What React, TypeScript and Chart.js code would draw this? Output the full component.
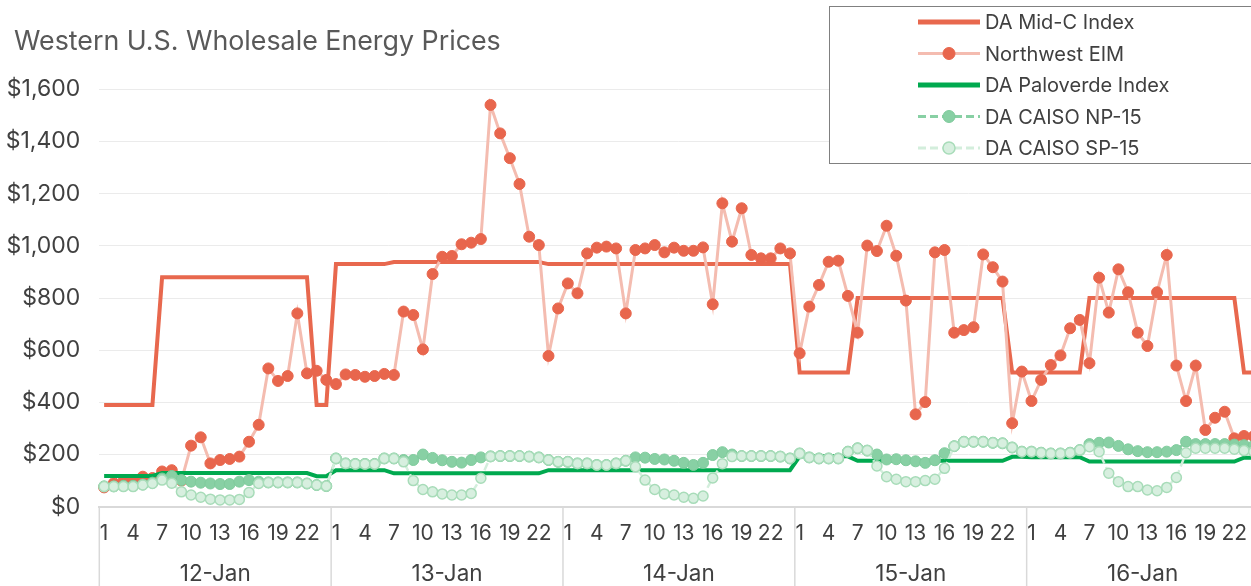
import React, { useEffect, useRef } from 'react';
import { Chart, registerables } from 'chart.js';

Chart.register(...registerables);

const FONT = 'Inter, "Liberation Sans", Arial, sans-serif';

const chartTitle = 'Western U.S. Wholesale Energy Prices';
const days = ['12-Jan', '13-Jan', '14-Jan', '15-Jan', '16-Jan'];
const hours = ['1', '2', '3', '4', '5', '6', '7', '8', '9', '10', '11', '12', '13', '14', '15', '16', '17', '18', '19', '20', '21', '22', '23', '24'];
const yTickLabels = ['$0', '$200', '$400', '$600', '$800', '$1,000', '$1,200', '$1,400', '$1,600'];
const seriesNames = ['DA Mid-C Index', 'Northwest EIM', 'DA Paloverde Index', 'DA CAISO NP-15', 'DA CAISO SP-15'];

const midC = [
  390, 390, 390, 390, 390, 390, 880, 880, 880, 880, 880, 880, 880, 880, 880, 880, 880, 880, 880, 880, 880, 880, 390, 390,
  930, 930, 930, 930, 930, 930, 938, 938, 938, 938, 938, 938, 938, 938, 938, 938, 938, 938, 938, 938, 938, 938, 930, 930,
  930, 930, 930, 930, 930, 930, 930, 930, 930, 930, 930, 930, 930, 930, 930, 930, 930, 930, 930, 930, 930, 930, 930, 930,
  514, 514, 514, 514, 514, 514, 800, 800, 800, 800, 800, 800, 800, 800, 800, 800, 800, 800, 800, 800, 800, 800, 514, 514,
  514, 514, 514, 514, 514, 514, 800, 800, 800, 800, 800, 800, 800, 800, 800, 800, 800, 800, 800, 800, 800, 800, 514, 514,
];

const northwestEIM = [
  74, 90, 98, 100, 115, 110, 135, 140, 100, 234, 266, 166, 179, 183, 192, 249, 314, 530, 482, 501, 741, 511, 521, 486,
  470, 507, 505, 498, 501, 509, 505, 748, 735, 603, 892, 958, 961, 1006, 1012, 1026, 1540, 1431, 1336, 1237, 1035, 1003, 578, 760,
  856, 818, 971, 993, 997, 990, 741, 984, 990, 1003, 975, 993, 981, 981, 994, 776, 1163, 1016, 1144, 965, 952, 952, 990, 971,
  588, 767, 850, 939, 943, 808, 667, 1001, 980, 1077, 962, 790, 354, 401, 975, 984, 667, 677, 688, 967, 918, 863, 320, 518,
  405, 486, 543, 580, 684, 716, 550, 878, 744, 910, 822, 667, 616, 822, 965, 541, 405, 541, 294, 341, 364, 262, 271, 270,
];

const paloverde = [
  118, 118, 118, 118, 118, 118, 129, 129, 129, 129, 129, 129, 129, 129, 129, 129, 129, 129, 129, 129, 129, 129, 117, 117,
  140, 140, 140, 140, 140, 140, 128, 128, 128, 128, 128, 128, 128, 128, 128, 128, 128, 128, 128, 128, 128, 128, 140, 140,
  140, 140, 140, 140, 140, 140, 140, 140, 140, 140, 140, 140, 140, 140, 140, 140, 140, 140, 140, 140, 140, 140, 140, 140,
  193, 193, 193, 193, 193, 193, 176, 176, 176, 176, 176, 176, 176, 176, 176, 176, 176, 176, 176, 176, 176, 176, 191, 191,
  190, 190, 190, 190, 190, 190, 173, 173, 173, 173, 173, 173, 173, 173, 173, 173, 173, 173, 173, 173, 173, 173, 188, 188,
];

const caisoNP15 = [
  78, 78, 80, 80, 85, 92, 108, 118, 102, 96, 92, 89, 87, 87, 96, 102, 96, 93, 93, 93, 93, 89, 83, 79,
  185, 166, 164, 164, 164, 185, 185, 179, 179, 200, 187, 178, 172, 169, 179, 189, 193, 194, 194, 194, 192, 189, 179, 172,
  172, 166, 166, 160, 160, 166, 176, 189, 188, 183, 181, 176, 168, 160, 168, 198, 209, 200, 194, 194, 194, 194, 192, 185,
  204, 189, 185, 185, 185, 211, 224, 215, 200, 181, 182, 178, 174, 168, 178, 205, 232, 249, 249, 249, 245, 243, 227, 211,
  211, 207, 204, 204, 207, 217, 240, 245, 246, 233, 220, 213, 209, 209, 211, 217, 249, 240, 240, 240, 240, 238, 236, 234,
];

const caisoSP15 = [
  77, 77, 77, 77, 83, 89, 102, 90, 57, 45, 36, 29, 26, 26, 28, 54, 89, 93, 93, 93, 93, 89, 83, 79,
  185, 166, 164, 164, 164, 185, 185, 172, 100, 66, 57, 49, 45, 45, 51, 109, 192, 194, 194, 194, 192, 189, 179, 172,
  172, 166, 166, 160, 160, 166, 176, 153, 102, 66, 49, 45, 36, 32, 41, 110, 165, 192, 194, 194, 194, 194, 192, 185,
  204, 189, 185, 185, 185, 211, 224, 215, 156, 115, 105, 96, 96, 100, 105, 147, 232, 249, 249, 249, 245, 243, 227, 211,
  211, 207, 204, 204, 207, 217, 230, 211, 128, 96, 77, 77, 64, 61, 74, 112, 207, 224, 224, 224, 224, 220, 215, 211,
];

const categories = days.flatMap((d) => hours.map((h) => `${d} ${h}`));

const titlePlugin = {
  id: 'leftTitle',
  afterDraw(chart: any) {
    const ctx = chart.ctx;
    ctx.save();
    ctx.fillStyle = '#595959';
    ctx.font = `26.8px ${FONT}`;
    ctx.textAlign = 'left';
    ctx.textBaseline = 'alphabetic';
    ctx.fillText(chartTitle, 14, 50);
    ctx.restore();
  },
};

const separatorPlugin = {
  id: 'daySeparators',
  afterDraw(chart: any) {
    const ctx = chart.ctx;
    const xs = chart.scales.x;
    ctx.save();
    ctx.strokeStyle = '#D9D9D9';
    ctx.lineWidth = 1.5;
    for (let d = 0; d <= days.length; d++) {
      const px = xs.getPixelForValue(d * hours.length - 0.5);
      ctx.beginPath();
      ctx.moveTo(px, chart.chartArea.bottom);
      ctx.lineTo(px, chart.height);
      ctx.stroke();
    }
    ctx.restore();
  },
};

const legendPlugin = {
  id: 'boxLegend',
  afterDraw(chart: any) {
    const ctx = chart.ctx;
    ctx.save();
    ctx.fillStyle = '#FFFFFF';
    ctx.fillRect(829.5, 6.5, 440, 157);
    ctx.strokeStyle = '#808080';
    ctx.lineWidth = 1;
    ctx.strokeRect(829.5, 6.5, 440, 157);
    const x0 = 918;
    const x1 = 980;
    const xm = 949;
    chart.data.datasets.forEach((ds: any, i: number) => {
      const y = 22 + i * 31.5;
      ctx.setLineDash(ds.legendDash || []);
      ctx.strokeStyle = ds.legendLineColor || ds.borderColor;
      ctx.lineWidth = ds.legendLineWidth;
      ctx.beginPath();
      ctx.moveTo(x0, y);
      ctx.lineTo(x1, y);
      ctx.stroke();
      ctx.setLineDash([]);
      if (ds.pointRadius > 0) {
        ctx.beginPath();
        ctx.arc(xm, y, 6, 0, Math.PI * 2);
        ctx.fillStyle = ds.pointBackgroundColor;
        ctx.fill();
        ctx.lineWidth = ds.pointBorderWidth || 1;
        ctx.strokeStyle = ds.pointBorderColor;
        ctx.stroke();
      }
      ctx.fillStyle = '#404040';
      ctx.font = `20px ${FONT}`;
      ctx.textAlign = 'left';
      ctx.textBaseline = 'middle';
      ctx.fillText(ds.label, 985, y + 1);
    });
    ctx.restore();
  },
};

const noSidePadding = (s: any, h: number) => {
  s.height = h;
  s.paddingLeft = 0;
  s.paddingRight = 0;
};

export default function App() {
  const canvasRef = useRef<HTMLCanvasElement | null>(null);

  useEffect(() => {
    document.body.style.margin = '0';
    document.body.style.overflow = 'hidden';
    const canvas = canvasRef.current;
    if (!canvas) return;
    const chart = new Chart(canvas, {
      type: 'line',
      data: {
        labels: categories,
        datasets: [
          {
            label: seriesNames[0],
            data: midC,
            borderColor: '#E8684E',
            borderWidth: 4,
            pointRadius: 0,
            order: 4,
            legendLineWidth: 5,
          } as any,
          {
            label: seriesNames[1],
            data: northwestEIM,
            borderColor: '#F4BCB0',
            borderWidth: 3,
            pointRadius: 5.5,
            pointBackgroundColor: '#E8664D',
            pointBorderColor: '#E8664D',
            pointBorderWidth: 1,
            order: 3,
            legendLineWidth: 3,
          } as any,
          {
            label: seriesNames[2],
            data: paloverde,
            borderColor: '#00A94F',
            borderWidth: 4,
            pointRadius: 0,
            order: 2,
            legendLineWidth: 5,
          } as any,
          {
            label: seriesNames[3],
            data: caisoNP15,
            borderColor: '#88D0A4',
            borderWidth: 2.5,
            borderDash: [8, 4],
            pointRadius: 5.5,
            pointBackgroundColor: '#88D0A4',
            pointBorderColor: '#7FCB9C',
            pointBorderWidth: 1,
            order: 1,
            legendLineWidth: 3,
            legendDash: [8, 4],
          } as any,
          {
            label: seriesNames[4],
            data: caisoSP15,
            borderColor: '#D3EEDC',
            borderWidth: 2.5,
            borderDash: [8, 4],
            pointRadius: 5,
            pointBackgroundColor: '#D7EFDF',
            pointBorderColor: '#A8DCB9',
            pointBorderWidth: 1.5,
            order: 0,
            legendLineWidth: 3,
            legendDash: [8, 4],
          } as any,
        ],
      },
      options: {
        responsive: false,
        maintainAspectRatio: false,
        animation: false,
        devicePixelRatio: 1,
        layout: { padding: { top: 89.3, left: 0, right: 0, bottom: 0 } },
        plugins: {
          legend: { display: false },
          tooltip: { enabled: false },
          title: { display: false },
        },
        scales: {
          x: {
            type: 'category',
            position: 'bottom',
            offset: true,
            weight: 0,
            grid: { display: false, drawTicks: false },
            border: { display: true, color: '#D9D9D9', width: 2 },
            ticks: {
              autoSkip: false,
              maxRotation: 0,
              minRotation: 0,
              padding: 2,
              color: '#404040',
              font: { family: FONT, size: 21, lineHeight: '49.2px' },
              callback: (_v: any, index: number) => (index % 3 === 0 ? hours[index % hours.length] : ''),
            },
            afterFit: (s: any) => noSidePadding(s, 46),
          },
          x2: {
            type: 'category',
            labels: days,
            position: 'bottom',
            offset: true,
            weight: 1,
            grid: { display: false, drawTicks: false },
            border: { display: false },
            ticks: {
              autoSkip: false,
              maxRotation: 0,
              minRotation: 0,
              padding: 8,
              color: '#404040',
              font: { family: FONT, size: 22.5 },
            },
            afterFit: (s: any) => noSidePadding(s, 33.3),
          },
          y: {
            min: 0,
            max: 1600,
            grid: { color: '#EBEBEB', lineWidth: 1, drawTicks: false },
            border: { display: false },
            ticks: {
              stepSize: 200,
              padding: 19,
              color: '#404040',
              font: { family: FONT, size: 23 },
              callback: (_v: any, index: number) => yTickLabels[index],
            },
            afterFit: (s: any) => {
              s.width = 99.3;
            },
          },
        },
      } as any,
      plugins: [separatorPlugin, legendPlugin, titlePlugin],
    });
    return () => chart.destroy();
  }, []);

  return (
    <div style={{ width: 1251, height: 586, overflow: 'hidden', position: 'relative' }}>
      <canvas ref={canvasRef} width={1265} height={586} style={{ width: 1265, height: 586, display: 'block' }} />
    </div>
  );
}
